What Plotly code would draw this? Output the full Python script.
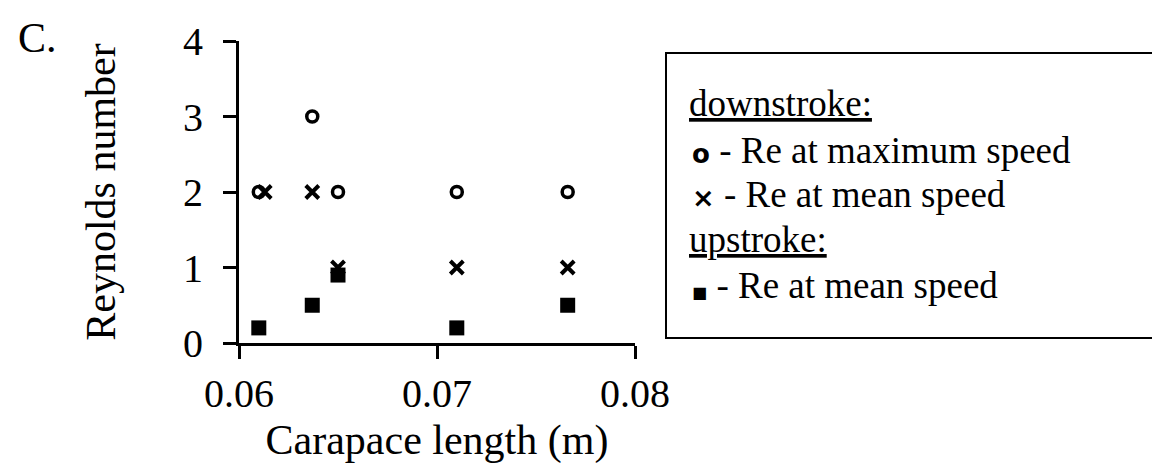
import plotly.graph_objects as go

# ---- data ----
carapace_len = [0.0610, 0.0637, 0.0650, 0.0710, 0.0766]
re_down_max = [2, 3, 2, 2, 2]
carapace_len_mean = [0.0613, 0.0637, 0.0650, 0.0710, 0.0766]
re_down_mean = [2, 2, 1, 1, 1]
re_up_mean = [0.2, 0.5, 0.9, 0.2, 0.5]

x_ticks = [0.06, 0.07, 0.08]
x_ticktext = ["0.06", "0.07", "0.08"]
y_ticks = [0, 1, 2, 3, 4]
y_ticktext = ["0", "1", "2", "3", "4"]

panel_label = "C."
x_title = "Carapace length (m)"
y_title = "Reynolds number"
legend_lines = [
    ("head", "downstroke:"),
    ("o", "Re at maximum speed"),
    ("x", "Re at mean speed"),
    ("head", "upstroke:"),
    ("sq", "Re at mean speed"),
]

# ---- layout geometry ----
W, H = 1160, 476
L, R, T, B = 231, 627, 33, 335
SERIF = "Liberation Serif"


def px2x(px):
    return (px - L) / (R - L)


def px2y(py):
    return (B - py) / (B - T)


fig = go.Figure()

fig.add_trace(go.Scatter(
    x=carapace_len, y=re_down_max, mode="markers", name="downstroke: Re at maximum speed",
    marker=dict(symbol="circle-open", size=11, color="black", line=dict(width=3.5, color="black")),
    showlegend=False))
fig.add_trace(go.Scatter(
    x=carapace_len_mean, y=re_down_mean, mode="markers", name="downstroke: Re at mean speed",
    marker=dict(symbol="x-thin-open", size=13, color="black", line=dict(width=4, color="black")),
    showlegend=False))
fig.add_trace(go.Scatter(
    x=carapace_len, y=re_up_mean, mode="markers", name="upstroke: Re at mean speed",
    marker=dict(symbol="square", size=15, color="black", line=dict(width=0)),
    showlegend=False))

axis_common = dict(showgrid=False, zeroline=False, linecolor="black", tickcolor="black",
                   tickwidth=3, ticklen=13)

fig.update_layout(
    width=W, height=H,
    margin=dict(l=L, r=W - R, t=T, b=H - B, pad=0),
    paper_bgcolor="white", plot_bgcolor="white",
    font=dict(family=SERIF, color="black"),
    xaxis=dict(range=[0.06, 0.08], tickmode="array", tickvals=x_ticks, ticktext=x_ticktext,
               showline=True, linewidth=3, ticks="outside", ticklabelstandoff=0,
               tickfont=dict(size=40, family=SERIF, color="black"),
               title=dict(text=x_title, font=dict(size=42, family=SERIF, color="black"), standoff=10),
               **axis_common),
    yaxis=dict(range=[0, 4], tickmode="array", tickvals=y_ticks, ticktext=y_ticktext,
               showline=True, linewidth=3, ticks="outside", ticklabelstandoff=12,
               tickfont=dict(size=40, family=SERIF, color="black"),
               title=dict(text=y_title, font=dict(size=42, family=SERIF, color="black"), standoff=55),
               **axis_common),
    xaxis2=dict(range=[0.06, 0.08], overlaying="x", anchor="y", side="bottom",
                tickmode="array", tickvals=x_ticks, ticks="inside", showticklabels=False,
                showline=False, **axis_common),
    yaxis2=dict(range=[0, 4], overlaying="y", anchor="x", side="left",
                tickmode="array", tickvals=y_ticks, ticks="inside", showticklabels=False,
                showline=False, **axis_common),
    showlegend=False,
)

# legend frame (decoration)
fig.add_shape(type="rect", xref="paper", yref="paper",
              x0=px2x(658), x1=px2x(1147), y0=px2y(330), y1=px2y(45),
              line=dict(color="black", width=2), fillcolor="rgba(0,0,0,0)", layer="above")

glyph = {
    "o": "<span style='font-family:DejaVu Sans;font-weight:bold;font-size:26px'>o</span>",
    "x": "<span style='font-family:DejaVu Sans;font-weight:bold;font-size:27px'>\u00d7</span>",
    "sq": "<span style='font-family:DejaVu Sans;font-size:16px'>\u25a0</span>",
}
line_y = [96, 142, 187, 231, 277]
for (kind, text), yy in zip(legend_lines, line_y):
    if kind == "head":
        label = "<u>" + text + "</u>"
        x0 = 679
    else:
        label = glyph[kind] + " - " + text
        x0 = 682
    fig.add_annotation(x=px2x(x0), y=px2y(yy), xref="paper", yref="paper",
                       xanchor="left", yanchor="middle", showarrow=False, text=label,
                       font=dict(size=37, family=SERIF, color="black"))

fig.add_annotation(x=px2x(8), y=px2y(30), xref="paper", yref="paper",
                   xanchor="left", yanchor="middle", showarrow=False, text=panel_label,
                   font=dict(size=42, family=SERIF, color="black"))

fig.write_html("out.html")
